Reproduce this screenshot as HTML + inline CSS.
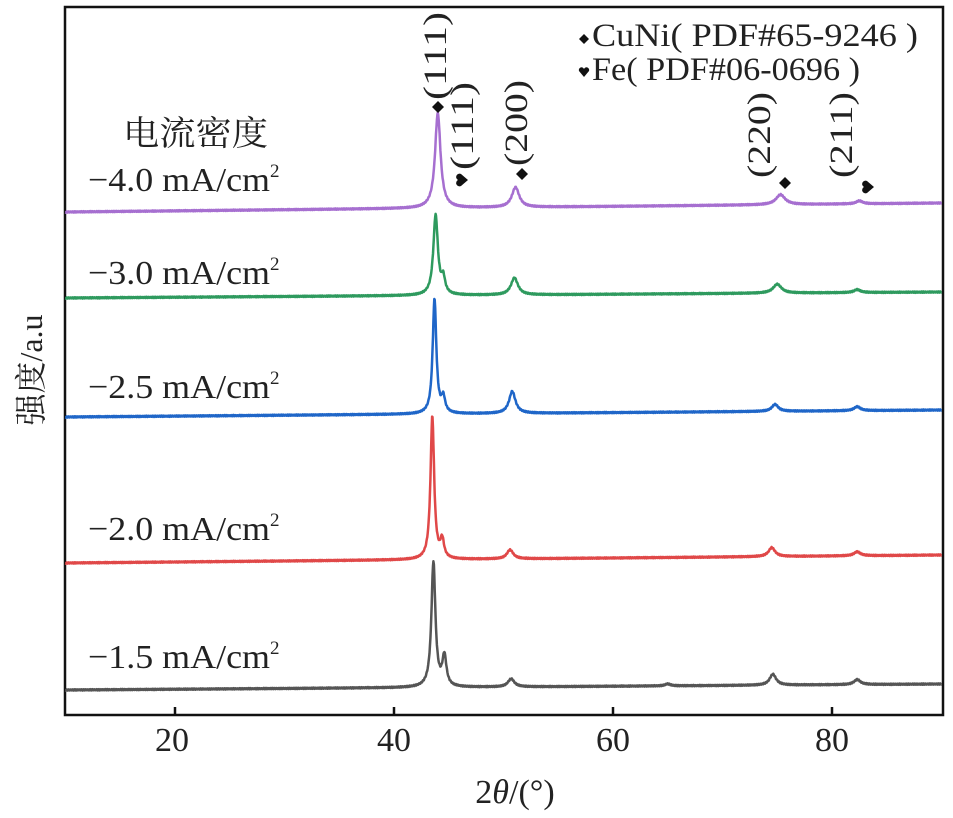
<!DOCTYPE html>
<html><head><meta charset="utf-8"><style>
body{margin:0;background:#fff;}
svg{display:block;font-family:"Liberation Serif","Noto Serif CJK SC",serif;}
</style></head><body>
<svg id="s" width="953" height="818" viewBox="0 0 953 818" xmlns="http://www.w3.org/2000/svg">
<rect x="65" y="7" width="878" height="708" fill="none" stroke="#111" stroke-width="2.5"/>
<g stroke="#111" stroke-width="2.5">
<line x1="175" y1="715" x2="175" y2="707"/><line x1="394" y1="715" x2="394" y2="707"/>
<line x1="613" y1="715" x2="613" y2="707"/><line x1="832" y1="715" x2="832" y2="707"/>
</g>
<g font-size="34" fill="#222" text-anchor="middle">
<text x="172" y="751">20</text><text x="394" y="751">40</text><text x="613" y="751">60</text><text x="832" y="751">80</text>
</g>
<text x="515" y="803" font-size="34" text-anchor="middle" fill="#222">2<tspan font-style="italic">θ</tspan>/(°)</text>
<text transform="translate(42,370) rotate(-90)" font-size="32" text-anchor="middle" fill="#222">强度/a.u</text>
<g id="curves" fill="none" stroke-width="2.5" stroke-linejoin="round"></g>
<g font-size="34" fill="#222">
<text x="123" y="145" font-size="34" textLength="145" lengthAdjust="spacingAndGlyphs">电流密度</text>
<text x="88" y="191"><tspan textLength="182" lengthAdjust="spacingAndGlyphs">−4.0 mA/cm</tspan><tspan font-size="19" dy="-14">2</tspan></text>
<text x="88" y="284"><tspan textLength="182" lengthAdjust="spacingAndGlyphs">−3.0 mA/cm</tspan><tspan font-size="19" dy="-14">2</tspan></text>
<text x="88" y="398"><tspan textLength="182" lengthAdjust="spacingAndGlyphs">−2.5 mA/cm</tspan><tspan font-size="19" dy="-14">2</tspan></text>
<text x="88" y="540"><tspan textLength="182" lengthAdjust="spacingAndGlyphs">−2.0 mA/cm</tspan><tspan font-size="19" dy="-14">2</tspan></text>
<text x="88" y="668"><tspan textLength="182" lengthAdjust="spacingAndGlyphs">−1.5 mA/cm</tspan><tspan font-size="19" dy="-14">2</tspan></text>
</g>
<g font-size="33" fill="#222">
<text x="592" y="46" textLength="326" lengthAdjust="spacingAndGlyphs">CuNi( PDF#65-9246 )</text>
<text x="592" y="80" textLength="268" lengthAdjust="spacingAndGlyphs">Fe( PDF#06-0696 )</text>
</g>
<g fill="#111">
<polygon points="584,34 589,39 584,44 579,39"/>
<path d="M584,77 L579,71 A2.6,2.6 0 0 1 584,69 A2.6,2.6 0 0 1 589,71 Z"/>
<polygon points="438,101 444,107 438,113 432,107"/>
<polygon points="522,168 528,174 522,180 516,174"/>
<polygon points="785,177 791,183 785,189 779,183"/>
<path d="M468,180 L461,174 A3,3 0 0 0 458,180 A3,3 0 0 0 461,186 Z"/>
<path d="M874,187 L867,181 A3,3 0 0 0 864,187 A3,3 0 0 0 867,193 Z"/>
</g>
<g font-size="33" fill="#222" dominant-baseline="central">
<text transform="translate(436,100) rotate(-90)" textLength="88" lengthAdjust="spacingAndGlyphs">(111)</text>
<text transform="translate(463,170) rotate(-90)" textLength="88" lengthAdjust="spacingAndGlyphs">(111)</text>
<text transform="translate(517,166) rotate(-90)" textLength="86" lengthAdjust="spacingAndGlyphs">(200)</text>
<text transform="translate(760,178) rotate(-90)" textLength="86" lengthAdjust="spacingAndGlyphs">(220)</text>
<text transform="translate(842,178) rotate(-90)" textLength="86" lengthAdjust="spacingAndGlyphs">(211)</text>
</g>
</svg>
<script>
(function(){
var X=function(v){return 394+(v-40)*10.95;};
var series=[
 {c:"#555",l:690,r:684,p:[[43.6,125,0.22],[44.6,30,0.22],[50.7,8,0.35],[65,2,0.3],[74.6,11,0.35],[82.3,5,0.35]]},
 {c:"#e04848",l:563,r:555,p:[[43.5,143,0.2],[44.4,18,0.2],[50.6,9,0.35],[74.5,9,0.35],[82.3,4,0.35]]},
 {c:"#1f66c8",l:417,r:410,p:[[43.7,115,0.2],[44.5,15,0.2],[50.8,22,0.35],[74.8,7,0.35],[82.3,4,0.35]]},
 {c:"#2e9a5e",l:298,r:292,p:[[43.8,80,0.25],[44.5,15,0.2],[51.0,17,0.38],[75.0,9,0.45],[82.3,3,0.35]]},
 {c:"#a66fd0",l:212,r:203,p:[[44.0,95,0.3],[51.1,20,0.4],[75.3,10,0.5],[82.5,3,0.35]]}
];
var g=document.getElementById('curves'),s="";
series.forEach(function(o){
 var d="";
 for(var v=10;v<=90.001;v+=0.04){
  var base=o.l+(o.r-o.l)*(v-10)/80;
  var y=base;
  o.p.forEach(function(p){var t=(v-p[0])/p[2];y-=p[1]/(1+t*t);});
  y+=Math.sin(v*37.1)*0.6;
  d+=(d?"L":"M")+X(v).toFixed(1)+" "+y.toFixed(1);
 }
 s+='<path d="'+d+'" stroke="'+o.c+'"/>';
});
g.innerHTML=s;
})();
</script>
</body></html>
